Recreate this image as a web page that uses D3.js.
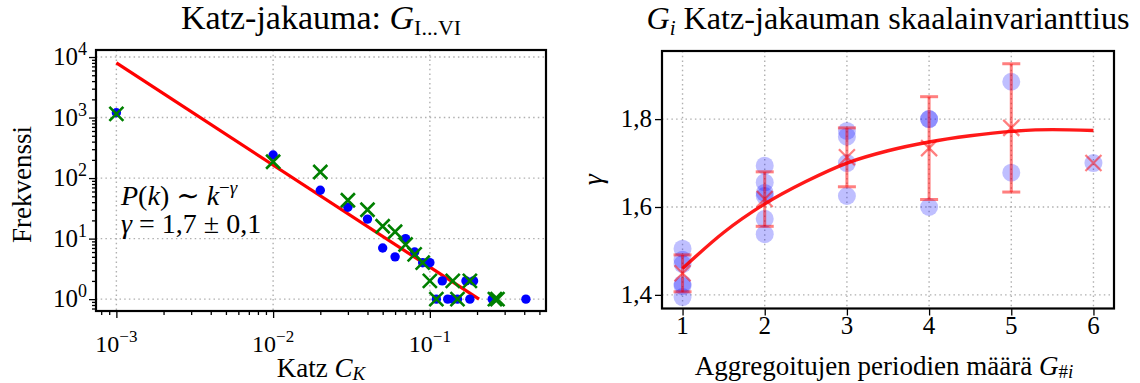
<!DOCTYPE html>
<html><head><meta charset="utf-8">
<script src="https://cdn.jsdelivr.net/npm/d3@7"></script>
<style>
body{margin:0;background:#fff}
text{font-family:"Liberation Serif","DejaVu Serif",serif;fill:#000}
</style>
</head><body>
<svg id="c" width="1140" height="383"></svg>
<script>
// ---------- Left chart data (Katz distribution) ----------
const blueK = [0.001,0.01,0.02,0.03,0.04,0.05,0.06,0.07,0.08,0.09,0.10,0.12,0.17,0.19,0.11,0.13,0.14,0.15,0.18,0.25,0.41];
const blueF = [1200,240,63,33,21,7,5,10,6,4,4,2,2,2,1,1,1,1,1,1,1];
const greenK = [0.001,0.01,0.02,0.03,0.04,0.05,0.06,0.07,0.08,0.09,0.10,0.14,0.18,0.11,0.15,0.26,0.27];
const greenF = [1150,186,126,43,30,16,13,8,5.5,4,2,2,2,1,1,1,1];
const fitK = [0.001,0.206];
const fitF = [8000,1];
const leftXTicks = [1e-3,1e-2,1e-1];
const leftXTickExp = ["−3","−2","−1"];
const leftYTicks = [1,10,100,1000,10000];
const leftYTickExp = ["0","1","2","3","4"];

// ---------- Right chart data (scale invariance) ----------
const sampleN = [1,1,1,1,1,1, 2,2,2,2,2,2, 3,3,3,3, 4,4,4, 5,5, 6];
const sampleGamma = [1.505,1.48,1.47,1.425,1.42,1.395, 1.694,1.656,1.632,1.625,1.573,1.538, 1.773,1.76,1.70,1.625, 1.80,1.80,1.60, 1.885,1.678, 1.70];
const periods = [1,2,3,4,5,6];
const meanGamma = [1.449,1.618,1.713,1.734,1.78,1.70];
const errGamma = [0.042,0.062,0.067,0.117,0.146,0];
const curveN = [1,1.5,2,2.5,3,3.5,4,4.5,5,5.5,6];
const curveGamma = [1.460,1.542,1.607,1.658,1.700,1.728,1.748,1.762,1.772,1.776,1.774];
const rightXTicks = [1,2,3,4,5,6];
const rightYTicks = [1.4,1.6,1.8];
const rightYTickLabels = ["1,4","1,6","1,8"];

const svg = d3.select("#c");
const GRID = "#b0b0b0";
const TICKFS = 24, SUPFS = 17, LABFS = 27;

function xMarker(g, cx, cy, h, color, width, opacity){
  g.append("path")
   .attr("d", `M${cx-h},${cy-h}L${cx+h},${cy+h}M${cx-h},${cy+h}L${cx+h},${cy-h}`)
   .attr("stroke", color).attr("stroke-width", width).attr("fill","none")
   .attr("stroke-opacity", opacity);
}

// =================== LEFT CHART ===================
{
  const L=96, R=546, T=50, B=311;
  const x = d3.scaleLog().domain([10**-3.13, 10**-0.259]).range([L,R]);
  const y = d3.scaleLog().domain([10**-0.196, 10**4.116]).range([B,T]);
  const g = svg.append("g");

  g.selectAll(".gx").data(leftXTicks).join("line")
    .attr("x1",d=>x(d)).attr("x2",d=>x(d)).attr("y1",T).attr("y2",B)
    .attr("stroke",GRID).attr("stroke-width",1.4).attr("stroke-dasharray","1.5,3.2");
  g.selectAll(".gy").data(leftYTicks).join("line")
    .attr("y1",d=>y(d)).attr("y2",d=>y(d)).attr("x1",L).attr("x2",R)
    .attr("stroke",GRID).attr("stroke-width",1.4).attr("stroke-dasharray","1.5,3.2");

  const minorX = x.ticks().filter(d => !leftXTicks.includes(d));
  const minorY = y.ticks().filter(d => !leftYTicks.includes(d));
  const axX = g.append("g").attr("transform",`translate(0,${B})`);
  axX.call(d3.axisBottom(x).tickValues(leftXTicks).tickSize(7).tickFormat(""));
  axX.call(g2=>g2.select(".domain").remove());
  const axXm = g.append("g").attr("transform",`translate(0,${B})`);
  axXm.call(d3.axisBottom(x).tickValues(minorX).tickSize(4).tickFormat(""));
  axXm.call(g2=>g2.select(".domain").remove());
  const axY = g.append("g").attr("transform",`translate(${L},0)`);
  axY.call(d3.axisLeft(y).tickValues(leftYTicks).tickSize(7).tickFormat(""));
  axY.call(g2=>g2.select(".domain").remove());
  const axYm = g.append("g").attr("transform",`translate(${L},0)`);
  axYm.call(d3.axisLeft(y).tickValues(minorY).tickSize(4).tickFormat(""));
  axYm.call(g2=>g2.select(".domain").remove());
  g.selectAll(".tick line").attr("stroke","#000").attr("stroke-width",1.3);

  leftXTicks.forEach((d,i)=>{
    const t = g.append("text").attr("x",x(d)).attr("y",352).attr("text-anchor","middle").attr("font-size",TICKFS);
    t.append("tspan").text("10");
    t.append("tspan").attr("dy",-10).attr("font-size",SUPFS).text(leftXTickExp[i]);
  });
  leftYTicks.forEach((d,i)=>{
    const t = g.append("text").attr("x",L-9).attr("y",y(d)+8).attr("text-anchor","end").attr("font-size",TICKFS+1);
    t.append("tspan").text("10");
    t.append("tspan").attr("dy",-10).attr("font-size",SUPFS+1).text(leftYTickExp[i]);
  });

  const line = d3.line().x(d=>x(d[0])).y(d=>y(d[1]));
  g.append("path").datum(d3.zip(fitK,fitF)).attr("d",line)
    .attr("stroke","#ff0000").attr("stroke-width",3.2).attr("fill","none");

  g.selectAll(".bd").data(d3.zip(blueK,blueF)).join("circle")
    .attr("cx",d=>x(d[0])).attr("cy",d=>y(d[1])).attr("r",4.7).attr("fill","#0000ff");
  d3.zip(greenK,greenF).forEach(d=>xMarker(g, x(d[0]), y(d[1]), 7, "#008000", 2.6, 1));

  g.append("rect").attr("x",L).attr("y",T).attr("width",R-L).attr("height",B-T)
    .attr("fill","none").attr("stroke","#000").attr("stroke-width",2.2);

  const a1 = g.append("text").attr("x",121).attr("y",205).attr("font-size",28);
  a1.append("tspan").attr("font-style","italic").text("P");
  a1.append("tspan").text("(");
  a1.append("tspan").attr("font-style","italic").text("k");
  a1.append("tspan").text(") ∼ ");
  a1.append("tspan").attr("font-style","italic").text("k");
  a1.append("tspan").attr("dy",-11).attr("font-size",19).text("−");
  a1.append("tspan").attr("font-size",19).attr("font-style","italic").text("γ");
  const a2 = g.append("text").attr("x",121).attr("y",233).attr("font-size",28);
  a2.append("tspan").attr("font-style","italic").text("γ");
  a2.append("tspan").text(" = 1,7 ± 0,1");

  const tt = g.append("text").attr("x",(L+R)/2).attr("y",29).attr("text-anchor","middle").attr("font-size",34);
  tt.append("tspan").text("Katz-jakauma: ");
  tt.append("tspan").attr("font-style","italic").text("G");
  tt.append("tspan").attr("dy",6).attr("font-size",22).text("I...VI");

  const xl = g.append("text").attr("x",(L+R)/2).attr("y",377).attr("text-anchor","middle").attr("font-size",LABFS);
  xl.append("tspan").text("Katz ");
  xl.append("tspan").attr("font-style","italic").text("C");
  xl.append("tspan").attr("dy",3).attr("font-size",19).attr("font-style","italic").text("K");
  g.append("text").attr("transform",`translate(31,${(T+B)/2 + 4}) rotate(-90)`).attr("text-anchor","middle")
    .attr("font-size",LABFS).text("Frekvenssi");
}

// =================== RIGHT CHART ===================
{
  const L=662, R=1114, T=51, B=308.5;
  const x = d3.scaleLinear().domain([0.75,6.25]).range([L,R]);
  const y = d3.scaleLinear().domain([1.369,1.955]).range([B,T]);
  const g = svg.append("g");

  g.selectAll(".gx").data(rightXTicks).join("line")
    .attr("x1",d=>x(d)).attr("x2",d=>x(d)).attr("y1",T).attr("y2",B)
    .attr("stroke",GRID).attr("stroke-width",1.4).attr("stroke-dasharray","1.5,3.2");
  g.selectAll(".gy").data(rightYTicks).join("line")
    .attr("y1",d=>y(d)).attr("y2",d=>y(d)).attr("x1",L).attr("x2",R)
    .attr("stroke",GRID).attr("stroke-width",1.4).attr("stroke-dasharray","1.5,3.2");

  const axX = g.append("g").attr("transform",`translate(0,${B})`);
  axX.call(d3.axisBottom(x).tickValues(rightXTicks).tickSize(7).tickFormat(""));
  axX.call(g2=>g2.select(".domain").remove());
  const axY = g.append("g").attr("transform",`translate(${L},0)`);
  axY.call(d3.axisLeft(y).tickValues(rightYTicks).tickSize(7).tickFormat(""));
  axY.call(g2=>g2.select(".domain").remove());
  g.selectAll(".tick line").attr("stroke","#000").attr("stroke-width",1.3);

  rightXTicks.forEach(d=>{
    g.append("text").attr("x",x(d)).attr("y",334).attr("text-anchor","middle").attr("font-size",TICKFS+1).text(d);
  });
  rightYTicks.forEach((d,i)=>{
    g.append("text").attr("x",L-10).attr("y",y(d)+8).attr("text-anchor","end").attr("font-size",TICKFS+1).text(rightYTickLabels[i]);
  });

  g.selectAll(".sd").data(d3.zip(sampleN,sampleGamma)).join("circle")
    .attr("cx",d=>x(d[0])).attr("cy",d=>y(d[1])).attr("r",9)
    .attr("fill","#0000ff").attr("fill-opacity",0.25);

  periods.forEach((p,i)=>{
    const m = meanGamma[i], e = errGamma[i];
    if (e>0){
      const eg = g.append("g").attr("stroke","#ff0000").attr("stroke-opacity",0.5).attr("stroke-width",3);
      eg.append("line").attr("x1",x(p)).attr("x2",x(p)).attr("y1",y(m-e)).attr("y2",y(m+e));
      eg.append("line").attr("x1",x(p)-9).attr("x2",x(p)+9).attr("y1",y(m-e)).attr("y2",y(m-e));
      eg.append("line").attr("x1",x(p)-9).attr("x2",x(p)+9).attr("y1",y(m+e)).attr("y2",y(m+e));
    }
    xMarker(g, x(p), y(m), 8, "#ff0000", 2.2, 0.5);
  });

  const line = d3.line().x(d=>x(d[0])).y(d=>y(d[1])).curve(d3.curveMonotoneX);
  g.append("path").datum(d3.zip(curveN,curveGamma)).attr("d",line)
    .attr("stroke","#ff0000").attr("stroke-width",3.4).attr("fill","none").attr("stroke-opacity",0.9);

  g.append("rect").attr("x",L).attr("y",T).attr("width",R-L).attr("height",B-T)
    .attr("fill","none").attr("stroke","#000").attr("stroke-width",2.2);

  const tt = g.append("text").attr("x",(L+R)/2).attr("y",29).attr("text-anchor","middle").attr("font-size",32.2);
  tt.append("tspan").attr("font-style","italic").text("G");
  tt.append("tspan").attr("dy",6).attr("font-size",21).attr("font-style","italic").text("i");
  tt.append("tspan").attr("dy",-6).text(" Katz-jakauman skaalainvarianttius");

  const xl = g.append("text").attr("x",(L+R)/2 - 4).attr("y",375).attr("text-anchor","middle").attr("font-size",LABFS);
  xl.append("tspan").text("Aggregoitujen periodien määrä ");
  xl.append("tspan").attr("font-style","italic").text("G");
  xl.append("tspan").attr("dy",3).attr("font-size",19).text("#");
  xl.append("tspan").attr("font-size",19).attr("font-style","italic").text("i");

  g.append("text").attr("transform",`translate(602,${(T+B)/2}) rotate(-90)`).attr("text-anchor","middle")
    .attr("font-size",28).attr("font-style","italic").text("γ");
}
</script>
</body></html>
